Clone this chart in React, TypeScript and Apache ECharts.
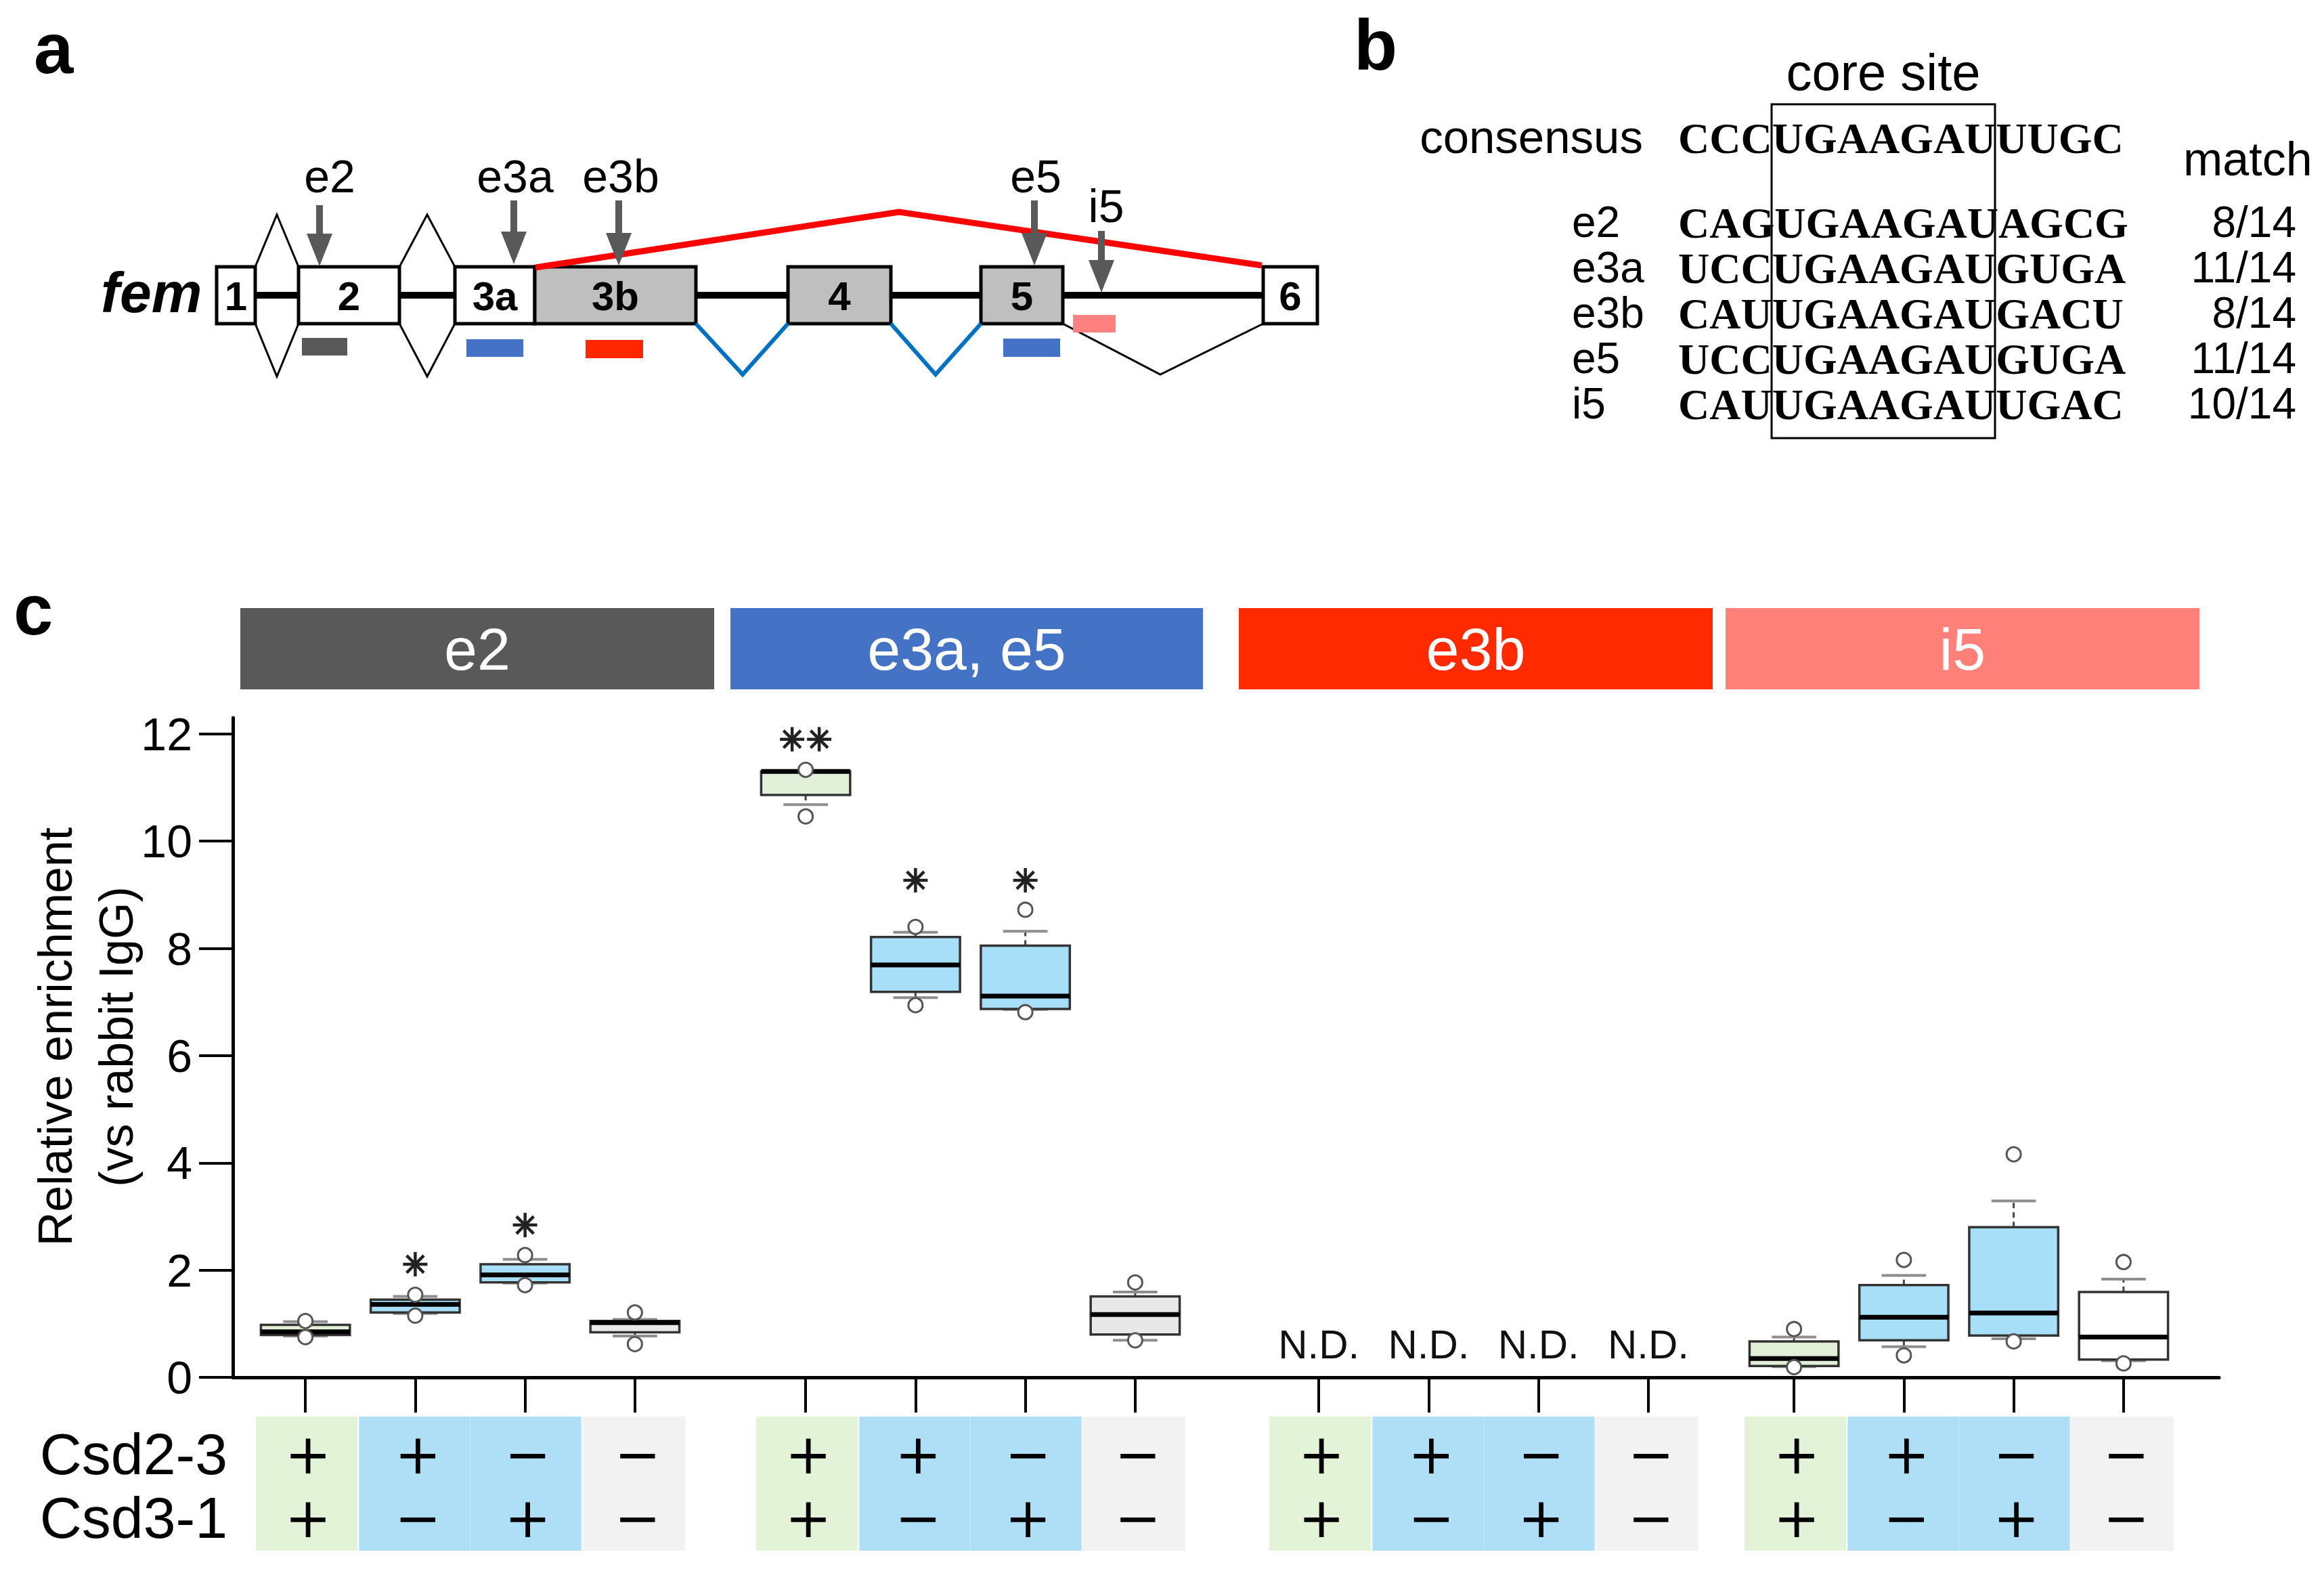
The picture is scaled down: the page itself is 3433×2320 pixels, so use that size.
import React, { useEffect, useRef } from "react";
import * as echarts from "echarts";

const FONT = "'Liberation Sans', Arial, Helvetica, sans-serif";
const SERIF = "'Liberation Serif', 'Times New Roman', serif";
const SIGNFONT = "'DejaVu Sans', sans-serif";

// ---------- panel c data ----------
const regionNames = ["e2", "e3a, e5", "e3b", "i5"];
const regionColors = ["#595959", "#4472C4", "#FF2A00", "#FF7F79"];
const conditions = ["+/+", "+/\u2212", "\u2212/+", "\u2212/\u2212"];
const csd23Signs = ["+", "+", "\u2212", "\u2212"];
const csd31Signs = ["+", "\u2212", "+", "\u2212"];
const yTicks = [0, 2, 4, 6, 8, 10, 12];

// [low whisker, Q1, median, Q3, high whisker]
const e2Boxes = [
  [0.77, 0.79, 0.85, 0.98, 1.04],
  [1.19, 1.21, 1.36, 1.45, 1.51],
  [1.76, 1.77, 1.91, 2.11, 2.2],
  [0.77, 0.84, 1.02, 1.05, 1.08],
];
const e2Points = [
  [1.05, 0.75],
  [1.54, 1.15],
  [2.28, 1.72],
  [1.21, 0.62],
];
const e2Sig = ["", "*", "*", ""];
const e2SigLevel = [0, 2.11, 2.84, 0];

const e3aE5Boxes = [
  [10.68, 10.86, 11.3, 11.3, 11.31],
  [7.08, 7.19, 7.69, 8.21, 8.3],
  [6.86, 6.87, 7.11, 8.05, 8.32],
  [0.69, 0.8, 1.17, 1.51, 1.59],
];
const e3aE5Points = [
  [11.33, 10.46],
  [8.4, 6.94],
  [8.72, 6.81],
  [1.77, 0.69],
];
const e3aE5Sig = ["**", "*", "*", ""];
const e3aE5SigLevel = [11.9, 9.27, 9.27, 0];

const e3bBoxes: number[][] = [];
const e3bPoints: number[][] = [];
const e3bSig = ["", "", "", ""];
const e3bSigLevel = [0, 0, 0, 0];
const e3bNotDetected = [true, true, true, true];
const ndLevel = 0.61;

const i5Boxes = [
  [0.2, 0.21, 0.35, 0.67, 0.75],
  [0.57, 0.69, 1.12, 1.72, 1.9],
  [0.72, 0.78, 1.2, 2.8, 3.29],
  [0.31, 0.33, 0.75, 1.59, 1.83],
];
const i5Points = [
  [0.9, 0.19],
  [2.19, 0.41],
  [4.16, 0.67],
  [2.15, 0.26],
];
const i5Sig = ["", "", "", ""];
const i5SigLevel = [0, 0, 0, 0];

const boxFillStd = ["#E2F0D9", "#A8DFF8", "#A8DFF8", "#E8E8E8"];
const boxFillI5 = ["#E2F0D9", "#A8DFF8", "#A8DFF8", "#FFFFFF"];
const cellFill = ["#E3F3D7", "#AEDFF7", "#AEDFF7", "#F2F2F2"];

// ---------- panel b data ----------
const consensusSeq = "CCCUGAAGAUUUGC";
const motifRows = ["e2", "e3a", "e3b", "e5", "i5"];
const motifSeqs = [
  "CAGUGAAGAUAGCG",
  "UCCUGAAGAUGUGA",
  "CAUUGAAGAUGACU",
  "UCCUGAAGAUGUGA",
  "CAUUGAAGAUUGAC",
];
const motifMatch = ["8/14", "11/14", "8/14", "11/14", "10/14"];

// ---------- panel a data ----------
const exonNames = ["1", "2", "3a", "3b", "4", "5", "6"];
const siteNames = ["e2", "e3a", "e3b", "e5", "i5"];

const groups = [
  { boxes: e2Boxes, points: e2Points, sig: e2Sig, sigLevel: e2SigLevel, fills: boxFillStd, nd: [false, false, false, false] },
  { boxes: e3aE5Boxes, points: e3aE5Points, sig: e3aE5Sig, sigLevel: e3aE5SigLevel, fills: boxFillStd, nd: [false, false, false, false] },
  { boxes: e3bBoxes, points: e3bPoints, sig: e3bSig, sigLevel: e3bSigLevel, fills: boxFillStd, nd: e3bNotDetected },
  { boxes: i5Boxes, points: i5Points, sig: i5Sig, sigLevel: i5SigLevel, fills: boxFillI5, nd: [false, false, false, false] },
];

const GRID_TOP = 1060;
const GRID_BOTTOM = 286;
const groupLefts = [370, 1109, 1867, 2569];
const CAT_W = 162.25;
const headerSpans = [
  [355, 1055],
  [1079, 1777],
  [1830, 2530],
  [2549, 3249],
];

const renderBox = (fills: string[]) => (params: any, api: any) => {
  const i = api.value(0);
  const x = api.coord([i, 0])[0];
  const w = api.size([1, 0])[0] * 0.81;
  const yLw = api.coord([i, api.value(1)])[1];
  const yQ1 = api.coord([i, api.value(2)])[1];
  const yMed = api.coord([i, api.value(3)])[1];
  const yQ3 = api.coord([i, api.value(4)])[1];
  const yHw = api.coord([i, api.value(5)])[1];
  const cap = w * 0.5;
  const wh = { stroke: "#444", lineWidth: 3, lineDash: [8, 6] };
  const cp = { stroke: "#8E8E8E", lineWidth: 4 };
  return {
    type: "group",
    children: [
      { type: "line", shape: { x1: x, y1: yQ3, x2: x, y2: yHw }, style: wh },
      { type: "line", shape: { x1: x, y1: yQ1, x2: x, y2: yLw }, style: wh },
      { type: "line", shape: { x1: x - cap / 2, y1: yHw, x2: x + cap / 2, y2: yHw }, style: cp },
      { type: "line", shape: { x1: x - cap / 2, y1: yLw, x2: x + cap / 2, y2: yLw }, style: cp },
      {
        type: "rect",
        shape: { x: x - w / 2, y: yQ3, width: w, height: Math.max(1, yQ1 - yQ3) },
        style: { fill: fills[i], stroke: "#333", lineWidth: 3.5 },
      },
      { type: "line", shape: { x1: x - w / 2, y1: yMed, x2: x + w / 2, y2: yMed }, style: { stroke: "#000", lineWidth: 7 } },
    ],
  };
};

const renderSig = (params: any, api: any) => {
  const i = api.value(0);
  const n = api.value(2);
  const [cx, cy] = api.coord([i, api.value(1)]);
  const children: any[] = [];
  for (let k = 0; k < n; k++) {
    const x = cx + (k - (n - 1) / 2) * 40;
    for (let a = 0; a < 4; a++) {
      const ang = (a * Math.PI) / 4;
      const dx = Math.cos(ang) * 18;
      const dy = Math.sin(ang) * 18;
      children.push({
        type: "line",
        shape: { x1: x - dx, y1: cy - dy, x2: x + dx, y2: cy + dy },
        style: { stroke: "#222", lineWidth: 4.5 },
      });
    }
  }
  return { type: "group", children };
};

const renderND = (params: any, api: any) => {
  const i = api.value(0);
  const [cx, cy] = api.coord([i, api.value(1)]);
  return {
    type: "text",
    x: cx,
    y: cy,
    style: { text: "N.D.", fontSize: 60, fontFamily: FONT, fill: "#111", align: "center", verticalAlign: "middle" },
  };
};

const renderTable = (params: any, api: any) => {
  const i = api.value(0);
  const [x, y0] = api.coord([i, 0]);
  const lefts = [73, 83, 81, 78];
  const rights = [77, 81, 83, 74];
  const signStyle = { fontSize: 82, fontFamily: SIGNFONT, fill: "#000", align: "center", verticalAlign: "middle" };
  return {
    type: "group",
    children: [
      {
        type: "rect",
        shape: { x: x - lefts[i], y: y0 + 58, width: lefts[i] + rights[i], height: 198 },
        style: { fill: cellFill[i] },
      },
      { type: "text", x: x + 4, y: y0 + 113, style: { ...signStyle, text: csd23Signs[i] } },
      { type: "text", x: x + 4, y: y0 + 207, style: { ...signStyle, text: csd31Signs[i] } },
    ],
  };
};

function buildGraphics(): any[] {
  const g: any[] = [];
  const txt = (text: string, x: number, y: number, size: number, opts: any = {}) => ({
    type: "text",
    x,
    y,
    z: 10,
    style: {
      text,
      fontSize: size,
      fontFamily: opts.family || FONT,
      fontWeight: opts.weight || "normal",
      fontStyle: opts.style || "normal",
      fill: opts.fill || "#000",
      align: opts.align || "center",
      verticalAlign: "middle",
      lineHeight: opts.lineHeight,
    },
    rotation: opts.rotation || 0,
  });

  // panel letters
  g.push(txt("a", 50, 71, 105, { weight: "bold", align: "left" }));
  g.push(txt("b", 2000, 66, 105, { weight: "bold", align: "left" }));
  g.push(txt("c", 20, 900, 105, { weight: "bold", align: "left" }));

  // ---- panel a: gene model
  const hex = (cx: number, l: number, r: number) => ({
    type: "polygon",
    z: 5,
    shape: { points: [[cx, 317], [r, 394], [r, 478], [cx, 556], [l, 478], [l, 394]] },
    style: { fill: "#fff", stroke: "#000", lineWidth: 3 },
  });
  g.push(hex(409, 377, 441));
  g.push(hex(631, 590, 672));
  g.push({ type: "line", z: 6, shape: { x1: 330, y1: 436, x2: 1930, y2: 436 }, style: { stroke: "#000", lineWidth: 10 } });
  const exons = [
    [320, 377, "#fff"],
    [441, 590, "#fff"],
    [672, 790, "#fff"],
    [790, 1028, "#BFBFBF"],
    [1164, 1316, "#BFBFBF"],
    [1449, 1570, "#BFBFBF"],
    [1866, 1946, "#fff"],
  ];
  exons.forEach((e, k) => {
    const x0 = e[0] as number;
    const x1 = e[1] as number;
    g.push({ type: "rect", z: 7, shape: { x: x0, y: 394, width: x1 - x0, height: 84 }, style: { fill: e[2], stroke: "#000", lineWidth: 5 } });
    g.push(txt(exonNames[k], (x0 + x1) / 2, 437, 60, { weight: "bold" }));
  });
  g.push(txt("fem", 149, 432, 84, { weight: "bold", style: "italic", align: "left" }));
  g.push({
    type: "polyline", z: 8,
    shape: { points: [[791, 395], [1328, 313], [1864, 392]] },
    style: { stroke: "#FF0000", lineWidth: 9, fill: null },
  });
  [[1028, 1097, 1164], [1316, 1382, 1449]].forEach((v) =>
    g.push({
      type: "polyline", z: 8,
      shape: { points: [[v[0], 478], [v[1], 553], [v[2], 478]] },
      style: { stroke: "#0070C0", lineWidth: 6, fill: null },
    })
  );
  g.push({
    type: "polyline", z: 8,
    shape: { points: [[1570, 478], [1714, 553], [1866, 478]] },
    style: { stroke: "#000", lineWidth: 3, fill: null },
  });
  const arrowDefs = [
    [472, 303, 393, 487, 260],
    [759, 296, 390, 761, 260],
    [914, 296, 392, 917, 260],
    [1528, 296, 392, 1530, 260],
    [1627, 341, 432, 1634, 304],
  ];
  arrowDefs.forEach((a, k) => {
    const [x, y0, y1, lx, ly] = a;
    g.push({ type: "rect", z: 9, shape: { x: x - 5, y: y0, width: 10, height: y1 - 44 - y0 }, style: { fill: "#595959" } });
    g.push({ type: "polygon", z: 9, shape: { points: [[x - 19, y1 - 48], [x + 19, y1 - 48], [x, y1]] }, style: { fill: "#595959" } });
    g.push(txt(siteNames[k], lx, ly, 68));
  });
  const probes = [
    [446, 499, 67, 26, "#595959"],
    [689, 501, 84, 26, "#4472C4"],
    [865, 502, 85, 27, "#FF2600"],
    [1482, 500, 84, 27, "#4472C4"],
    [1585, 465, 63, 26, "#FF8080"],
  ];
  probes.forEach((p) =>
    g.push({ type: "rect", z: 9, shape: { x: p[0], y: p[1], width: p[2], height: p[3] }, style: { fill: p[4] } })
  );

  // ---- panel b: motif alignment
  g.push(txt("core site", 2782, 106, 76));
  g.push({ type: "rect", z: 9, shape: { x: 2617, y: 154, width: 330, height: 493 }, style: { fill: null, stroke: "#000", lineWidth: 3 } });
  g.push(txt("consensus", 2427, 202, 69, { align: "right" }));
  g.push(txt(consensusSeq, 2479, 204, 64, { family: SERIF, weight: "bold", align: "left" }));
  g.push(txt("match", 3225, 235, 70, { align: "left" }));
  const rowBase = [351, 418, 485, 552, 619];
  motifRows.forEach((r, k) => {
    g.push(txt(r, 2322, rowBase[k] - 23, 64, { align: "left" }));
    g.push(txt(motifSeqs[k], 2479, rowBase[k] - 22, 64, { family: SERIF, weight: "bold", align: "left" }));
    g.push(txt(motifMatch[k], 3392, rowBase[k] - 23, 64, { align: "right" }));
  });

  // ---- panel c decorations
  regionNames.forEach((n, k) => {
    const [x0, x1] = headerSpans[k];
    g.push({ type: "rect", z: 5, shape: { x: x0, y: 898, width: x1 - x0, height: 120 }, style: { fill: regionColors[k] } });
    g.push(txt(n, (x0 + x1) / 2, 958, 88, { fill: "#fff" }));
  });
  g.push(txt("Relative enrichment\n(vs rabbit IgG)", 127, 1531, 70, { rotation: Math.PI / 2, lineHeight: 90 }));
  g.push(txt("Csd2-3", 336, 2147, 86, { align: "right" }));
  g.push(txt("Csd3-1", 336, 2241, 86, { align: "right" }));
  return g;
}

export default function App() {
  const ref = useRef<HTMLDivElement>(null);
  useEffect(() => {
    if (!ref.current) return;
    const chart = echarts.init(ref.current, null, { renderer: "svg" });
    const grids: any[] = [{ left: 344, right: 155, top: GRID_TOP, bottom: GRID_BOTTOM }];
    const xAxes: any[] = [
      {
        gridIndex: 0, type: "value", min: 0, max: 1,
        axisLine: { show: true, lineStyle: { color: "#000", width: 5 } },
        axisTick: { show: false }, axisLabel: { show: false }, splitLine: { show: false },
      },
    ];
    const yAxes: any[] = [
      {
        gridIndex: 0, type: "value", min: 0, max: 12.3,
        axisLine: { show: true, lineStyle: { color: "#000", width: 5 } },
        axisTick: { show: true, length: 50, customValues: yTicks, lineStyle: { color: "#000", width: 4 } },
        axisLabel: { show: true, customValues: yTicks, fontSize: 68, color: "#000", fontFamily: FONT, margin: 60 },
        splitLine: { show: false },
      },
    ];
    const series: any[] = [];
    groups.forEach((gr, k) => {
      const gi = k + 1;
      grids.push({ left: groupLefts[k], width: CAT_W * 4, top: GRID_TOP, bottom: GRID_BOTTOM });
      xAxes.push({
        gridIndex: gi, type: "category", data: conditions, boundaryGap: true,
        axisLine: { show: false },
        axisTick: { show: true, alignWithLabel: true, interval: 0, length: 52, lineStyle: { color: "#000", width: 4 } },
        axisLabel: { show: false }, splitLine: { show: false },
      });
      yAxes.push({ gridIndex: gi, type: "value", min: 0, max: 12.3, show: false, splitLine: { show: false } });
      const base = { xAxisIndex: gi, yAxisIndex: gi };
      series.push({
        ...base, type: "custom", z: 2, renderItem: renderTable,
        data: conditions.map((_, i) => [i, 0]), encode: { x: 0, y: 1 }, silent: true,
      });
      if (gr.boxes.length) {
        series.push({
          ...base, type: "custom", z: 3, renderItem: renderBox(gr.fills),
          data: gr.boxes.map((b, i) => [i, ...b]), encode: { x: 0, y: [1, 2, 3, 4, 5] },
        });
        const pts: number[][] = [];
        gr.points.forEach((p, i) => p.forEach((v) => pts.push([i, v])));
        series.push({
          ...base, type: "scatter", z: 4, symbol: "circle", symbolSize: 21, data: pts,
          itemStyle: { color: "#fff", borderColor: "#555", borderWidth: 3, opacity: 1 },
        });
      }
      const sigData: number[][] = [];
      gr.sig.forEach((s, i) => { if (s.length) sigData.push([i, gr.sigLevel[i], s.length]); });
      if (sigData.length) {
        series.push({ ...base, type: "custom", z: 5, renderItem: renderSig, data: sigData, encode: { x: 0, y: 1 } });
      }
      const ndData: number[][] = [];
      gr.nd.forEach((d, i) => { if (d) ndData.push([i, ndLevel]); });
      if (ndData.length) {
        series.push({ ...base, type: "custom", z: 5, renderItem: renderND, data: ndData, encode: { x: 0, y: 1 } });
      }
    });
    chart.setOption({
      animation: false,
      backgroundColor: "#fff",
      grid: grids,
      xAxis: xAxes,
      yAxis: yAxes,
      series,
      graphic: { elements: buildGraphics() },
    });
    return () => chart.dispose();
  }, []);
  return <div ref={ref} style={{ position: "fixed", left: 0, top: 0, width: 3433, height: 2320 }} />;
}
